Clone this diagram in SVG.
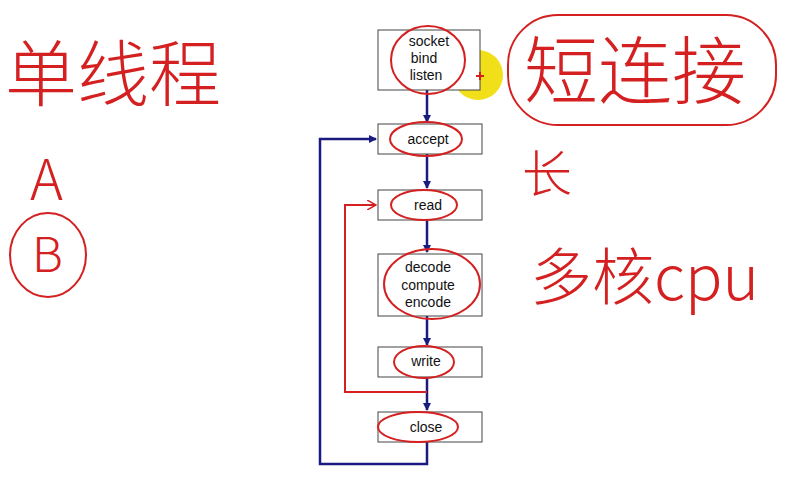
<svg xmlns="http://www.w3.org/2000/svg" width="810" height="477" viewBox="0 0 810 477">
<defs>
<marker id="ah" markerWidth="8" markerHeight="8" refX="7" refY="4" orient="auto" markerUnits="userSpaceOnUse"><path d="M0,0 L8,4 L0,8 z" fill="#1a1a80"/></marker>
<marker id="rh" markerWidth="10" markerHeight="10" refX="9" refY="5" orient="auto" markerUnits="userSpaceOnUse"><path d="M0,0 L9,5 L0,10" fill="none" stroke="#d42020" stroke-width="1.5"/></marker>
<style>
.box{fill:#fff;stroke:#444;stroke-width:1}
.t{font-family:"Liberation Sans",Arial,sans-serif;font-size:14px;fill:#111;text-anchor:middle}
.c{fill:none;stroke:#1a1a80;stroke-width:2.5}
.r{fill:none;stroke:#d42020;stroke-width:2}
.h{font-family:"Noto Sans CJK SC",sans-serif;fill:#d42020;font-weight:300}
</style>
</defs>
<rect width="810" height="477" fill="#fff"/>
<circle cx="478" cy="75" r="25" fill="#f0dc00" opacity="0.9"/>
<g id="connectors">
<path class="c" d="M427,90 V122" marker-end="url(#ah)"/>
<path class="c" d="M427,154 V188" marker-end="url(#ah)"/>
<path class="c" d="M427,220 V252" marker-end="url(#ah)"/>
<path class="c" d="M427,316 V345" marker-end="url(#ah)"/>
<path class="c" d="M427,377 V410" marker-end="url(#ah)"/>
<path class="c" d="M427,442 V464 H320 V139 H376" marker-end="url(#ah)"/>
</g>
<g id="socket"><rect class="box" x="378" y="30" width="102" height="60"/><text class="t" x="429" y="46">socket</text><text class="t" x="424" y="63">bind</text><text class="t" x="426" y="80">listen</text></g>
<g id="accept"><rect class="box" x="378" y="124" width="104" height="30"/><text class="t" x="428" y="144">accept</text></g>
<g id="read"><rect class="box" x="378" y="190" width="104" height="30"/><text class="t" x="428" y="210">read</text></g>
<g id="decode"><rect class="box" x="378" y="254" width="104" height="62"/><text class="t" x="428" y="272">decode</text><text class="t" x="428" y="290">compute</text><text class="t" x="428" y="307">encode</text></g>
<g id="write"><rect class="box" x="378" y="347" width="104" height="30"/><text class="t" x="426" y="366">write</text></g>
<g id="close"><rect class="box" x="378" y="412" width="104" height="30"/><text class="t" x="426" y="432">close</text></g>
<g id="annotations">
<ellipse class="r" cx="428" cy="60" rx="37" ry="34"/>
<ellipse class="r" cx="426" cy="139" rx="36" ry="17"/>
<ellipse class="r" cx="424" cy="205" rx="33" ry="15"/>
<ellipse class="r" cx="432" cy="284" rx="48" ry="35"/>
<ellipse class="r" cx="424" cy="362" rx="30" ry="16"/>
<ellipse class="r" cx="418" cy="427" rx="40" ry="15"/>
<path class="r" d="M427,392 H345 V205 H376" marker-end="url(#rh)"/>
<path class="r" d="M480,72 V80 M476,76 H484"/>
<rect class="r" x="508" y="15" width="268" height="110" rx="50"/>
<ellipse class="r" cx="48" cy="255" rx="38" ry="42"/>
<text class="h" x="5" y="100" font-size="72">单线程</text>
<text class="h" x="30" y="200" font-size="56">A</text>
<text class="h" x="32" y="272" font-size="48">B</text>
<text class="h" x="524" y="98" font-size="74">短连接</text>
<text class="h" x="522" y="192" font-size="50">长</text>
<text class="h" x="530" y="300" font-size="62">多核cpu</text>
</g>
</svg>
